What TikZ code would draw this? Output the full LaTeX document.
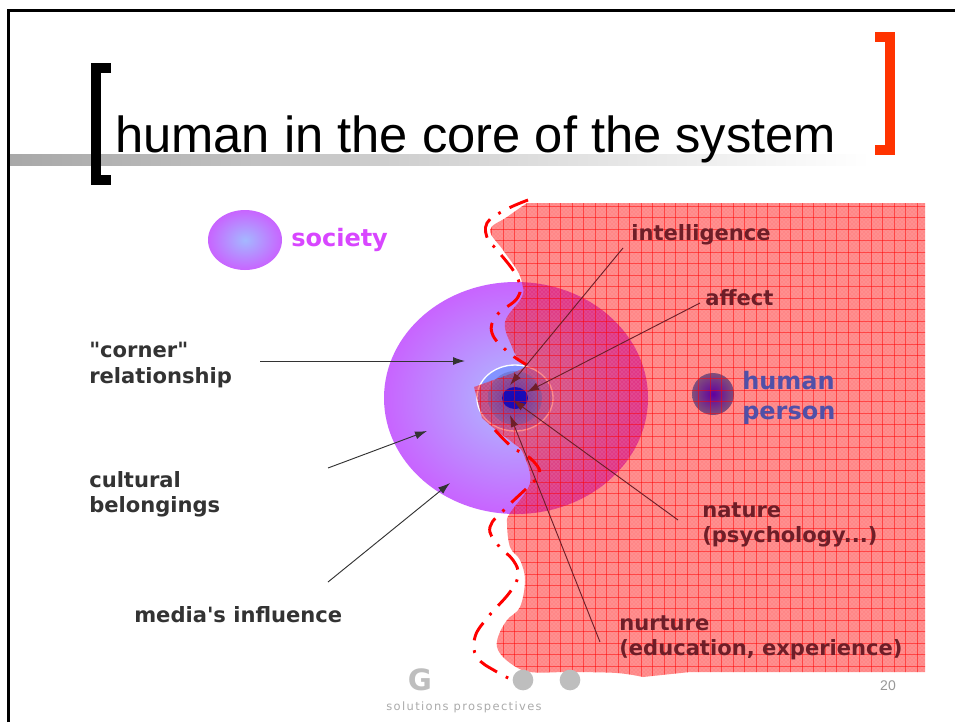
\documentclass[tikz,border=0pt]{standalone}
\usepackage{fontspec}
\setmainfont{Liberation Sans}
\newfontfamily\verafont{DejaVu Sans}
\newfontfamily\brandfont[LetterSpace=12]{DejaVu Sans}
\usetikzlibrary{calc,positioning,arrows.meta,patterns}
\definecolor{ballpurple}{HTML}{C864FF}
\definecolor{ballblue}{HTML}{A4B8FF}
\definecolor{darkgrey}{HTML}{333333}
\definecolor{darkred}{HTML}{6E1E28}
\definecolor{bracketred}{HTML}{FF3300}
\definecolor{footgrey}{HTML}{BEBEBE}
\definecolor{personblue}{HTML}{5050A8}
\newcommand{\regionpath}{(527,203) -- (925,203) -- (925,672) -- (690,672) -- plot [smooth,tension=.6] coordinates {(643,677) (617,673) (570,672) (530,672) (510,663) (498,650) (498,637) (507,620) (520,607) (525,580) (520,560) (510,547) (507,523) (510,513) (530,483) (523,453) (513,443) (497,431)} -- (482,418) -- (474,387) -- (513,373) -- (528,366) -- plot [smooth,tension=.6] coordinates {(517,357) (512,347) (505,322) (522,297) (522,283) (517,270) (503,250) (490,230) (507,217) (527,203)} -- cycle}
\tikzset{
  label text/.style={font=\verafont\bfseries\fontsize{15.8}{19}\selectfont,align=left,anchor=west,inner sep=0pt},
  left label/.style={label text,darkgrey},
  right label/.style={label text,darkred},
  big label/.style={label text,font=\verafont\bfseries\fontsize{18}{22}\selectfont},
  left arrow/.style={-{Latex[length=9pt,width=6pt]},darkgrey,line width=.7pt},
  right arrow/.style={-{Latex[length=9pt,width=6pt]},darkred,line width=.7pt},
  bracket/.style={line width=7pt,miter limit=10},
  red curve/.style={red,line width=2.2pt,dash pattern=on 15pt off 7.5pt on 2pt off 7.5pt}
}
\begin{document}
\begin{tikzpicture}[x=.75pt,y=-.75pt]
      \useasboundingbox (0,0) rectangle (955,722);
      \fill [white] (0,0) rectangle (955,722);
      \draw [black,line width=2pt] (8.5,722) -- (8.5,10.5) -- (955,10.5);
      \shade [left color=black!34,right color=white] (10,154) rectangle (870,165);
      \node [anchor=base west,inner sep=0pt,font=\fontsize{38}{38}\selectfont] (title) at (115,152) {human in the core of the system};
      \draw [bracket,black] (111,68) -- (96,68) -- (96,180) -- (111,180);
      \draw [bracket,bracketred] (875,37) -- (890,37) -- (890,150) -- (875,150);

      \shade [inner color=ballblue,outer color=ballpurple] (245,240) ellipse [x radius=37,y radius=30];
      \node [big label,color=ballpurple!70!magenta] (society) at (291,240) {society};
      \shade [inner color=ballblue!90!white,outer color=ballpurple] (516,398) ellipse [x radius=132,y radius=116];
      \draw [white,fill=ballblue!80!blue,line width=1pt] (515,398) ellipse [x radius=38,y radius=33];

      \fill [red,opacity=.47] \regionpath;
      \fill [pattern=crosshatch dots,pattern color=white,opacity=.3] \regionpath;
      \shade [inner color=blue!70!black,outer color=blue!30!gray,opacity=.4] (515,398) circle (27);
      \fill [blue!75!black,opacity=.8] (515,398) ellipse [x radius=13,y radius=11];
      \shade [inner color=violet!75!blue,outer color=personblue!60!gray!80!red] (713,394) circle (21);
      \begin{scope}
        \clip \regionpath;
        \foreach \gx in {480,491.5,...,924}
          \draw [red,opacity=.5,line width=.6pt] (\gx,200) -- (\gx,680);
        \foreach \gy in {206,217.5,...,680}
          \draw [red,opacity=.5,line width=.6pt] (470,\gy) -- (930,\gy);
      \end{scope}

      \draw [red curve] plot [smooth,tension=.7] coordinates {(528,200) (505,210) (487,223) (488,240) (497,250) (517,277) (518,297) (497,315) (492,333) (508,352) (527,365)};
      \draw [red curve] plot [smooth,tension=.7] coordinates {(495,430) (512,447) (530,458) (540,473) (530,485) (507,507) (490,527) (498,545) (513,560) (518,575) (510,592) (488,617) (475,637) (477,657) (497,672) (527,687)};

      \node [left label] (corner) at (89,365) {"corner"\\relationship};
      \node [left label] (cultural) at (89,494) {cultural\\belongings};
      \node [left label] (media) at (134,615) {media's influence};
      \node [right label] (intelligence) at (631,235) {intelligence};
      \node [right label] (affect) at (705,298) {affect};
      \node [big label,color=personblue] (person) at (742,398) {human\\person};
      \node [right label] (nature) at (702,525) {nature\\(psychology...)};
      \node [right label] (nurture) at (619,638) {nurture\\(education, experience)};

      \coordinate (cornerend) at (260,361);
      \coordinate (cornertip) at (465,361);
      \coordinate (culturalend) at (328,468);
      \coordinate (culturaltip) at (427,431);
      \coordinate (mediaend) at (328,582);
      \coordinate (mediatip) at (450,483);
      \coordinate (intelend) at (623,248);
      \coordinate (inteltip) at (510,385);
      \coordinate (affectend) at (700,303);
      \coordinate (affecttip) at (527,392);
      \coordinate (natureend) at (678,520);
      \coordinate (naturetip) at (513,400);
      \coordinate (nurtureend) at (600,642);
      \coordinate (nurturetip) at (510,415);
      \draw [left arrow] (cornerend) -- (cornertip);
      \draw [left arrow] (culturalend) -- (culturaltip);
      \draw [left arrow] (mediaend) -- (mediatip);
      \draw [right arrow] (intelend) -- (inteltip);
      \draw [right arrow] (affectend) -- (affecttip);
      \draw [right arrow] (natureend) -- (naturetip);
      \draw [right arrow] (nurtureend) -- (nurturetip);

      \node [footgrey,inner sep=0pt,font=\verafont\bfseries\fontsize{22}{22}\selectfont] (logo) at (420,680) {G};
      \node [circle,fill=footgrey,minimum size=15.5pt,inner sep=0pt] (dotone) at (523,680) {};
      \node [circle,fill=footgrey,minimum size=15.5pt,inner sep=0pt] (dottwo) at (570,680) {};
      \node [footgrey!90!black,inner sep=0pt,font=\brandfont\fontsize{8.6}{10}\selectfont] (brand) at (464,707) {solutions prospectives};
      \node [footgrey!80!black,inner sep=0pt,font=\fontsize{10.5}{12}\selectfont] (pagenum) at (888,686) {20};
    \end{tikzpicture}
\end{document}
